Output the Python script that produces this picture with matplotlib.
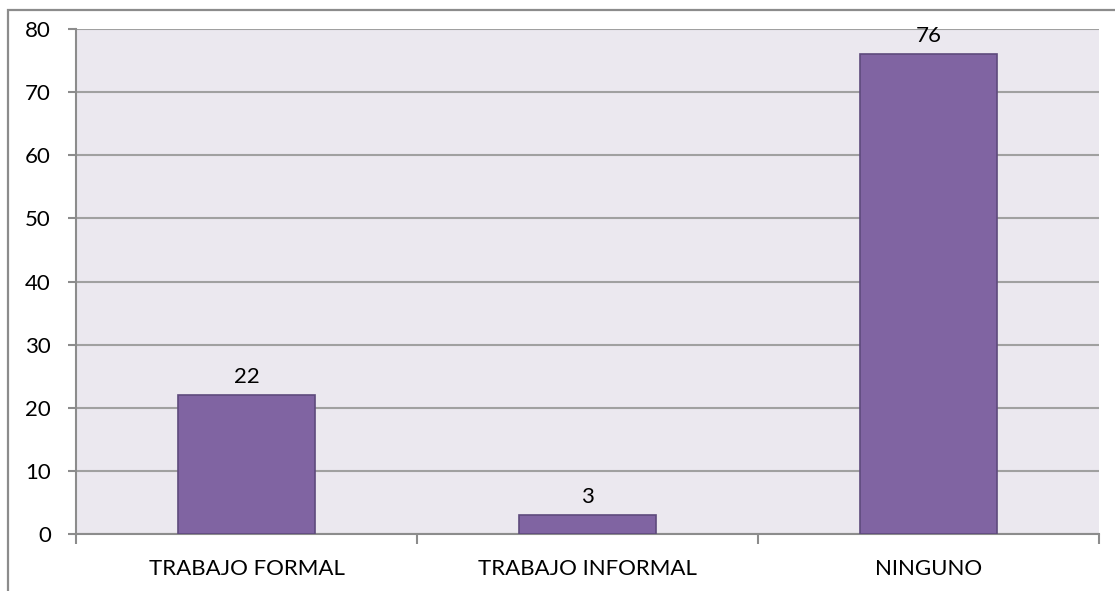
import numpy as np
import matplotlib.pyplot as plt
from matplotlib.patches import Rectangle

categorias = ['TRABAJO FORMAL', 'TRABAJO INFORMAL', 'NINGUNO']
valores = [22, 3, 76]
yticks = [0, 10, 20, 30, 40, 50, 60, 70, 80]

plt.rcParams['font.family'] = ['Lato', 'DejaVu Sans']

fig = plt.figure(figsize=(11.15, 5.91), dpi=100)
ax = fig.add_axes([76 / 1115, 1 - 534 / 591, (1099 - 76) / 1115, (534 - 29) / 591])

# borde exterior del grafico (recortado a la derecha y abajo)
fig.patches.append(Rectangle((8 / 1115, -0.1), 1.2, 1 - 10 / 591 + 0.1,
                             transform=fig.transFigure, fill=False,
                             edgecolor='#8c8c8c', linewidth=1.6))

ax.set_facecolor('#ebe8ef')
x = np.arange(len(categorias))
barras = ax.bar(x, valores, width=0.40, color='#8064a2', edgecolor='#5e4a7c',
                linewidth=1.2, zorder=3)

for xi, v in zip(x, valores):
    ax.annotate(str(v), (xi, v), xytext=(0, 6), textcoords='offset points',
                ha='center', va='bottom', fontsize=16)

ax.set_ylim(0, 80)
ax.set_xlim(-0.5, 2.5)
ax.set_yticks(yticks)
ax.yaxis.grid(True, color='#a0a0a0', linewidth=1.5, zorder=0)
ax.set_axisbelow(True)

ax.set_xticks(x)
ax.set_xticklabels(categorias)
ax.set_xticks([-0.5, 0.5, 1.5, 2.5], minor=True)
ax.tick_params(axis='x', which='major', length=0, pad=18, labelsize=16)
ax.tick_params(axis='x', which='minor', length=7, width=1.5, color='#8c8c8c', direction='out')
ax.tick_params(axis='y', length=6, width=1.5, color='#8c8c8c', pad=12, labelsize=16)

for lado in ['top', 'right']:
    ax.spines[lado].set_visible(False)
for lado in ['left', 'bottom']:
    ax.spines[lado].set_color('#8c8c8c')
    ax.spines[lado].set_linewidth(1.5)

fig.savefig('out.png', dpi=100, facecolor='white')
